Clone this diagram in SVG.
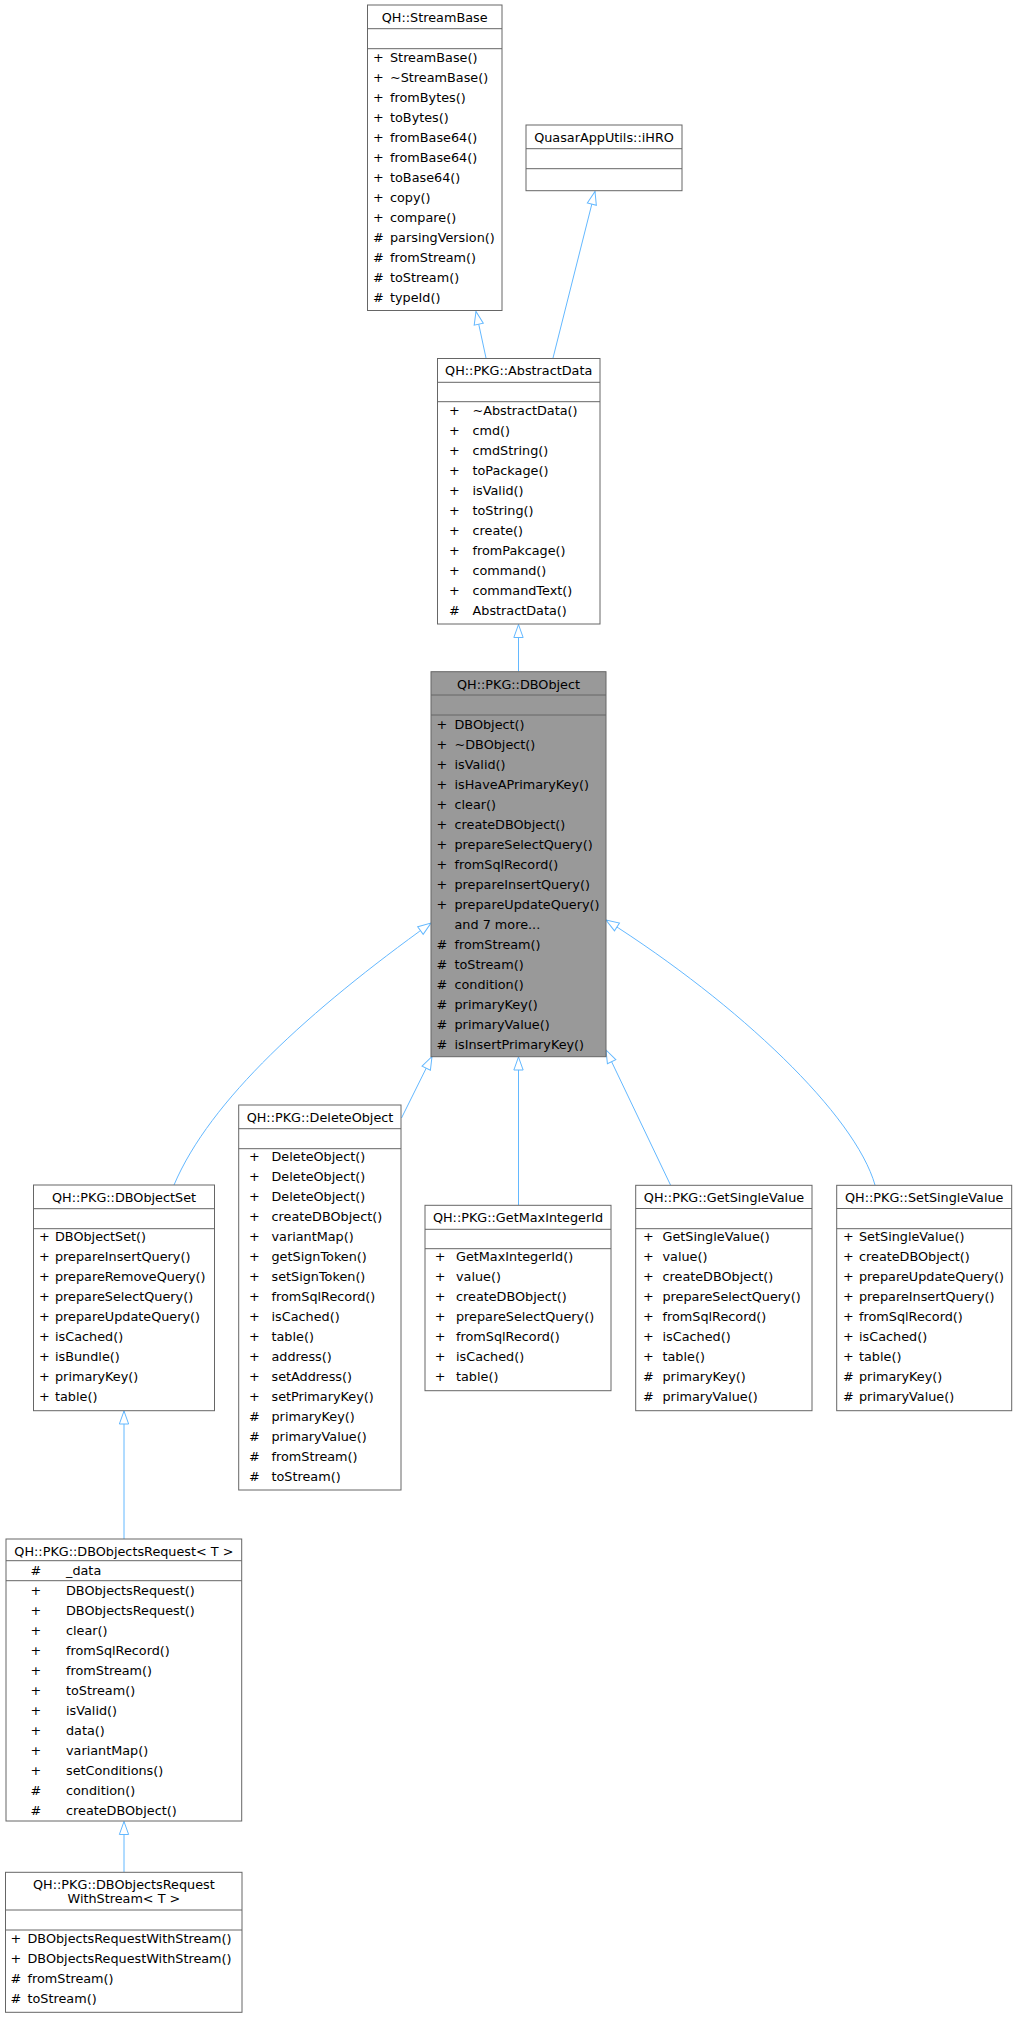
<svg xmlns="http://www.w3.org/2000/svg" width="1017" height="2017" viewBox="0 0 1017 2017">
<style>
.box{fill:#ffffff;stroke:#666666;stroke-width:1}
.focus{fill:#999999;stroke:#666666;stroke-width:1}
.sep{stroke:#666666;stroke-width:1}
text{font-family:"DejaVu Sans","Noto Sans",sans-serif;font-size:12.8px;fill:#000000}
.t{text-anchor:middle}
.e{fill:none;stroke:#63b8ff;stroke-width:1;marker-end:url(#inh)}
</style>
<defs>
<marker id="inh" markerUnits="userSpaceOnUse" markerWidth="16" markerHeight="12" refX="13" refY="4.65" orient="auto" overflow="visible">
<path d="M0,0 L13,4.65 L0,9.3 Z" fill="#ffffff" stroke="#63b8ff" stroke-width="1"/>
</marker>
</defs>
<rect width="1017" height="2017" fill="#ffffff"/>

<g id="connectors">
<path class="e" d="M486,358 L476,311.5"/>
<path class="e" d="M553,358 L595,191.5"/>
<path class="e" d="M518.5,671.5 L518.5,624.5"/>
<path class="e" d="M174,1185 C210,1100 310,1010 431,923"/>
<path class="e" d="M401.5,1118 L432,1056.5"/>
<path class="e" d="M518.5,1205 L518.5,1057"/>
<path class="e" d="M670.5,1185 L606,1050"/>
<path class="e" d="M875,1185 C855,1115 740,1005 606,920"/>
<path class="e" d="M124,1539 L124,1411"/>
<path class="e" d="M124,1872 L124,1821.5"/>
</g>

<g id="StreamBase">
<rect class="box" x="367.5" y="5" width="134.5" height="305.5"/>
<line class="sep" x1="367.5" y1="28.7" x2="502" y2="28.7"/>
<line class="sep" x1="367.5" y1="48.7" x2="502" y2="48.7"/>
<text class="t" x="434.7" y="22">QH::StreamBase</text>
<text x="373" y="61.7">+</text><text x="390" y="61.7">StreamBase()</text>
<text x="373" y="81.7">+</text><text x="390" y="81.7">~StreamBase()</text>
<text x="373" y="101.7">+</text><text x="390" y="101.7">fromBytes()</text>
<text x="373" y="121.7">+</text><text x="390" y="121.7">toBytes()</text>
<text x="373" y="141.7">+</text><text x="390" y="141.7">fromBase64()</text>
<text x="373" y="161.7">+</text><text x="390" y="161.7">fromBase64()</text>
<text x="373" y="181.7">+</text><text x="390" y="181.7">toBase64()</text>
<text x="373" y="201.7">+</text><text x="390" y="201.7">copy()</text>
<text x="373" y="221.7">+</text><text x="390" y="221.7">compare()</text>
<text x="373" y="241.7">#</text><text x="390" y="241.7">parsingVersion()</text>
<text x="373" y="261.7">#</text><text x="390" y="261.7">fromStream()</text>
<text x="373" y="281.7">#</text><text x="390" y="281.7">toStream()</text>
<text x="373" y="301.7">#</text><text x="390" y="301.7">typeId()</text>
</g>

<g id="iHRO">
<rect class="box" x="526" y="125" width="156" height="65.7"/>
<line class="sep" x1="526" y1="148.7" x2="682" y2="148.7"/>
<line class="sep" x1="526" y1="168.7" x2="682" y2="168.7"/>
<text class="t" x="604" y="142.2">QuasarAppUtils::iHRO</text>
</g>

<g id="AbstractData">
<rect class="box" x="437.5" y="358.5" width="162.5" height="265.5"/>
<line class="sep" x1="437.5" y1="382.3" x2="600" y2="382.3"/>
<line class="sep" x1="437.5" y1="401.7" x2="600" y2="401.7"/>
<text class="t" x="518.7" y="375">QH::PKG::AbstractData</text>
<text x="449" y="415">+</text><text x="472.5" y="415">~AbstractData()</text>
<text x="449" y="435">+</text><text x="472.5" y="435">cmd()</text>
<text x="449" y="455">+</text><text x="472.5" y="455">cmdString()</text>
<text x="449" y="475">+</text><text x="472.5" y="475">toPackage()</text>
<text x="449" y="495">+</text><text x="472.5" y="495">isValid()</text>
<text x="449" y="515">+</text><text x="472.5" y="515">toString()</text>
<text x="449" y="535">+</text><text x="472.5" y="535">create()</text>
<text x="449" y="555">+</text><text x="472.5" y="555">fromPakcage()</text>
<text x="449" y="575">+</text><text x="472.5" y="575">command()</text>
<text x="449" y="595">+</text><text x="472.5" y="595">commandText()</text>
<text x="449" y="615">#</text><text x="472.5" y="615">AbstractData()</text>
</g>

<g id="DBObject">
<rect class="focus" x="431" y="671.7" width="175" height="385"/>
<line class="sep" x1="431" y1="695" x2="606" y2="695"/>
<line class="sep" x1="431" y1="715" x2="606" y2="715"/>
<text class="t" x="518.5" y="688.8">QH::PKG::DBObject</text>
<text x="436.6" y="729">+</text><text x="454.5" y="729">DBObject()</text>
<text x="436.6" y="749">+</text><text x="454.5" y="749">~DBObject()</text>
<text x="436.6" y="769">+</text><text x="454.5" y="769">isValid()</text>
<text x="436.6" y="789">+</text><text x="454.5" y="789">isHaveAPrimaryKey()</text>
<text x="436.6" y="809">+</text><text x="454.5" y="809">clear()</text>
<text x="436.6" y="829">+</text><text x="454.5" y="829">createDBObject()</text>
<text x="436.6" y="849">+</text><text x="454.5" y="849">prepareSelectQuery()</text>
<text x="436.6" y="869">+</text><text x="454.5" y="869">fromSqlRecord()</text>
<text x="436.6" y="889">+</text><text x="454.5" y="889">prepareInsertQuery()</text>
<text x="436.6" y="909">+</text><text x="454.5" y="909">prepareUpdateQuery()</text>
<text x="454.5" y="929">and 7 more...</text>
<text x="436.6" y="949">#</text><text x="454.5" y="949">fromStream()</text>
<text x="436.6" y="969">#</text><text x="454.5" y="969">toStream()</text>
<text x="436.6" y="989">#</text><text x="454.5" y="989">condition()</text>
<text x="436.6" y="1009">#</text><text x="454.5" y="1009">primaryKey()</text>
<text x="436.6" y="1029">#</text><text x="454.5" y="1029">primaryValue()</text>
<text x="436.6" y="1049">#</text><text x="454.5" y="1049">isInsertPrimaryKey()</text>
</g>

<g id="DBObjectSet">
<rect class="box" x="33.5" y="1185" width="181" height="225.7"/>
<line class="sep" x1="33.5" y1="1208.7" x2="214.5" y2="1208.7"/>
<line class="sep" x1="33.5" y1="1228.7" x2="214.5" y2="1228.7"/>
<text class="t" x="124" y="1201.8">QH::PKG::DBObjectSet</text>
<text x="39" y="1241.3">+</text><text x="55" y="1241.3">DBObjectSet()</text>
<text x="39" y="1261.3">+</text><text x="55" y="1261.3">prepareInsertQuery()</text>
<text x="39" y="1281.3">+</text><text x="55" y="1281.3">prepareRemoveQuery()</text>
<text x="39" y="1301.3">+</text><text x="55" y="1301.3">prepareSelectQuery()</text>
<text x="39" y="1321.3">+</text><text x="55" y="1321.3">prepareUpdateQuery()</text>
<text x="39" y="1341.3">+</text><text x="55" y="1341.3">isCached()</text>
<text x="39" y="1361.3">+</text><text x="55" y="1361.3">isBundle()</text>
<text x="39" y="1381.3">+</text><text x="55" y="1381.3">primaryKey()</text>
<text x="39" y="1401.3">+</text><text x="55" y="1401.3">table()</text>
</g>

<g id="DeleteObject">
<rect class="box" x="238.7" y="1105" width="162.3" height="385"/>
<line class="sep" x1="238.7" y1="1128.7" x2="401" y2="1128.7"/>
<line class="sep" x1="238.7" y1="1148.7" x2="401" y2="1148.7"/>
<text class="t" x="320" y="1121.8">QH::PKG::DeleteObject</text>
<text x="249" y="1161.3">+</text><text x="271.5" y="1161.3">DeleteObject()</text>
<text x="249" y="1181.3">+</text><text x="271.5" y="1181.3">DeleteObject()</text>
<text x="249" y="1201.3">+</text><text x="271.5" y="1201.3">DeleteObject()</text>
<text x="249" y="1221.3">+</text><text x="271.5" y="1221.3">createDBObject()</text>
<text x="249" y="1241.3">+</text><text x="271.5" y="1241.3">variantMap()</text>
<text x="249" y="1261.3">+</text><text x="271.5" y="1261.3">getSignToken()</text>
<text x="249" y="1281.3">+</text><text x="271.5" y="1281.3">setSignToken()</text>
<text x="249" y="1301.3">+</text><text x="271.5" y="1301.3">fromSqlRecord()</text>
<text x="249" y="1321.3">+</text><text x="271.5" y="1321.3">isCached()</text>
<text x="249" y="1341.3">+</text><text x="271.5" y="1341.3">table()</text>
<text x="249" y="1361.3">+</text><text x="271.5" y="1361.3">address()</text>
<text x="249" y="1381.3">+</text><text x="271.5" y="1381.3">setAddress()</text>
<text x="249" y="1401.3">+</text><text x="271.5" y="1401.3">setPrimaryKey()</text>
<text x="249" y="1421.3">#</text><text x="271.5" y="1421.3">primaryKey()</text>
<text x="249" y="1441.3">#</text><text x="271.5" y="1441.3">primaryValue()</text>
<text x="249" y="1461.3">#</text><text x="271.5" y="1461.3">fromStream()</text>
<text x="249" y="1481.3">#</text><text x="271.5" y="1481.3">toStream()</text>
</g>

<g id="GetMaxIntegerId">
<rect class="box" x="425" y="1205.3" width="186" height="185.4"/>
<line class="sep" x1="425" y1="1229.3" x2="611" y2="1229.3"/>
<line class="sep" x1="425" y1="1248.7" x2="611" y2="1248.7"/>
<text class="t" x="518" y="1221.8">QH::PKG::GetMaxIntegerId</text>
<text x="434.7" y="1261.3">+</text><text x="456" y="1261.3">GetMaxIntegerId()</text>
<text x="434.7" y="1281.3">+</text><text x="456" y="1281.3">value()</text>
<text x="434.7" y="1301.3">+</text><text x="456" y="1301.3">createDBObject()</text>
<text x="434.7" y="1321.3">+</text><text x="456" y="1321.3">prepareSelectQuery()</text>
<text x="434.7" y="1341.3">+</text><text x="456" y="1341.3">fromSqlRecord()</text>
<text x="434.7" y="1361.3">+</text><text x="456" y="1361.3">isCached()</text>
<text x="434.7" y="1381.3">+</text><text x="456" y="1381.3">table()</text>
</g>

<g id="GetSingleValue">
<rect class="box" x="635.7" y="1185.3" width="176.3" height="225.4"/>
<line class="sep" x1="635.7" y1="1208.5" x2="812" y2="1208.5"/>
<line class="sep" x1="635.7" y1="1228.7" x2="812" y2="1228.7"/>
<text class="t" x="724" y="1201.8">QH::PKG::GetSingleValue</text>
<text x="643" y="1241.3">+</text><text x="662.5" y="1241.3">GetSingleValue()</text>
<text x="643" y="1261.3">+</text><text x="662.5" y="1261.3">value()</text>
<text x="643" y="1281.3">+</text><text x="662.5" y="1281.3">createDBObject()</text>
<text x="643" y="1301.3">+</text><text x="662.5" y="1301.3">prepareSelectQuery()</text>
<text x="643" y="1321.3">+</text><text x="662.5" y="1321.3">fromSqlRecord()</text>
<text x="643" y="1341.3">+</text><text x="662.5" y="1341.3">isCached()</text>
<text x="643" y="1361.3">+</text><text x="662.5" y="1361.3">table()</text>
<text x="643" y="1381.3">#</text><text x="662.5" y="1381.3">primaryKey()</text>
<text x="643" y="1401.3">#</text><text x="662.5" y="1401.3">primaryValue()</text>
</g>

<g id="SetSingleValue">
<rect class="box" x="836.7" y="1185.3" width="175" height="225.4"/>
<line class="sep" x1="836.7" y1="1208.5" x2="1011.7" y2="1208.5"/>
<line class="sep" x1="836.7" y1="1228.7" x2="1011.7" y2="1228.7"/>
<text class="t" x="924.2" y="1201.8">QH::PKG::SetSingleValue</text>
<text x="843" y="1241.3">+</text><text x="859" y="1241.3">SetSingleValue()</text>
<text x="843" y="1261.3">+</text><text x="859" y="1261.3">createDBObject()</text>
<text x="843" y="1281.3">+</text><text x="859" y="1281.3">prepareUpdateQuery()</text>
<text x="843" y="1301.3">+</text><text x="859" y="1301.3">prepareInsertQuery()</text>
<text x="843" y="1321.3">+</text><text x="859" y="1321.3">fromSqlRecord()</text>
<text x="843" y="1341.3">+</text><text x="859" y="1341.3">isCached()</text>
<text x="843" y="1361.3">+</text><text x="859" y="1361.3">table()</text>
<text x="843" y="1381.3">#</text><text x="859" y="1381.3">primaryKey()</text>
<text x="843" y="1401.3">#</text><text x="859" y="1401.3">primaryValue()</text>
</g>

<g id="DBObjectsRequest">
<rect class="box" x="6" y="1539" width="235.7" height="282"/>
<line class="sep" x1="6" y1="1560.7" x2="241.7" y2="1560.7"/>
<line class="sep" x1="6" y1="1580.7" x2="241.7" y2="1580.7"/>
<text class="t" x="123.9" y="1555.5">QH::PKG::DBObjectsRequest&lt; T &gt;</text>
<text x="30.6" y="1575">#</text><text x="66" y="1575">_data</text>
<text x="30.6" y="1594.7">+</text><text x="66" y="1594.7">DBObjectsRequest()</text>
<text x="30.6" y="1614.7">+</text><text x="66" y="1614.7">DBObjectsRequest()</text>
<text x="30.6" y="1634.7">+</text><text x="66" y="1634.7">clear()</text>
<text x="30.6" y="1654.7">+</text><text x="66" y="1654.7">fromSqlRecord()</text>
<text x="30.6" y="1674.7">+</text><text x="66" y="1674.7">fromStream()</text>
<text x="30.6" y="1694.7">+</text><text x="66" y="1694.7">toStream()</text>
<text x="30.6" y="1714.7">+</text><text x="66" y="1714.7">isValid()</text>
<text x="30.6" y="1734.7">+</text><text x="66" y="1734.7">data()</text>
<text x="30.6" y="1754.7">+</text><text x="66" y="1754.7">variantMap()</text>
<text x="30.6" y="1774.7">+</text><text x="66" y="1774.7">setConditions()</text>
<text x="30.6" y="1794.7">#</text><text x="66" y="1794.7">condition()</text>
<text x="30.6" y="1814.7">#</text><text x="66" y="1814.7">createDBObject()</text>
</g>

<g id="DBObjectsRequestWithStream">
<rect class="box" x="5.5" y="1872.3" width="236.5" height="140"/>
<line class="sep" x1="5.5" y1="1910" x2="242" y2="1910"/>
<line class="sep" x1="5.5" y1="1930" x2="242" y2="1930"/>
<text class="t" x="123.9" y="1888.8">QH::PKG::DBObjectsRequest</text>
<text class="t" x="123.9" y="1902.8">WithStream&lt; T &gt;</text>
<text x="10.6" y="1943.3">+</text><text x="27.5" y="1943.3">DBObjectsRequestWithStream()</text>
<text x="10.6" y="1963.3">+</text><text x="27.5" y="1963.3">DBObjectsRequestWithStream()</text>
<text x="10.6" y="1983.3">#</text><text x="27.5" y="1983.3">fromStream()</text>
<text x="10.6" y="2003.3">#</text><text x="27.5" y="2003.3">toStream()</text>
</g>
</svg>
